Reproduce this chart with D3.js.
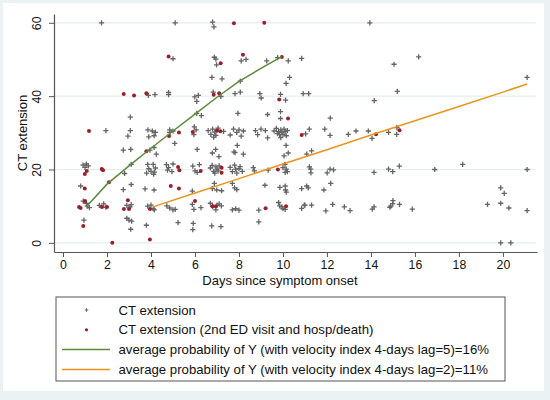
<!DOCTYPE html>
<html><head><meta charset="utf-8">
<script src="https://cdn.jsdelivr.net/npm/d3@7"></script>
<style>html,body{margin:0;padding:0;background:#eaf2f3;}svg{display:block;font-family:"Liberation Sans",Arial,sans-serif;}</style>
</head><body><svg id="c" width="550" height="400"></svg>
<script>
// ---- data ----
const xTicks = [0,2,4,6,8,10,12,14,16,18,20];
const yTicks = [0,20,40,60];
const xTitle = "Days since symptom onset";
const yTitle = "CT extension";
const legendLabels = [
  "CT extension",
  "CT extension (2nd ED visit and hosp/death)",
  "average probability of Y (with velocity index 4-days lag=5)=16%",
  "average probability of Y (with velocity index 4-days lag=2)=11%"
];
const ctPoints = [
 [1.75,60],[5.1,60],[6.8,60.2],[6.86,58.9],[13.95,60],
 [5.0,50.2],[6.88,50.6],[6.95,50.1],[6.98,48.5],[8.1,49.6],[8.32,50],[9.26,49.6],[9.76,50.5],[10.24,49.6],[10.85,50.3],[15.05,48.7],[16.17,50.7],
 [6.77,45.1],[7.23,44.7],[8.06,44.1],[10.3,45.1],[10.14,43.5],[21.1,45.1],
 [3.88,40.2],[4.18,40.4],[4.8,41],[4.8,40.4],[5.99,39.8],[6.15,40.2],[6.08,38.6],[6.83,41.1],[7.18,39.9],[7.82,40.7],[8.06,41.1],[8.95,40.7],[9.01,39.5],[9.89,40.5],[10.12,38.9],[10.92,40.7],[11.17,40.7],[14.15,38.8],[15.2,41.3],
 [3.06,34.3],[6.08,35.3],[6.29,34.7],[7.95,35.3],[9.3,35.0],[9.89,35.8],[9.89,33.9],[12.15,34],
 [1.95,30.6],[3.06,30.6],[2.95,29.1],[3.86,30.8],[3.9,28.9],[4.14,29.2],[4.2,30.1],[4.06,30.5],[4.85,30.8],[4.85,30.1],[5.0,30.5],[5.97,31.6],[5.95,29.5],[6.05,30.8],[6.6,30.6],[6.72,29.6],[6.8,31.0],[6.9,30.2],[6.95,29.3],[7.05,31.3],[6.85,28.8],[7.3,30.4],[7.6,29.4],[7.75,31],[7.9,30.1],[8.0,30.8],[8.1,29.1],[8.2,30.5],[8.75,30.6],[8.85,29.5],[9.0,31],[9.2,30.6],[9.3,28.6],[9.6,30.5],[9.7,31.2],[9.75,29.8],[9.8,30.3],[9.85,29.5],[9.9,30.8],[9.95,30.1],[10.0,29.6],[10.05,31.0],[10.1,30.3],[10.15,29.2],[9.9,28.7],[10.2,30.6],[11.03,29.7],[11.2,31],[11.9,31],[12.14,29.3],[12.97,29.6],[13.32,30.5],[13.88,30.5],[14.05,28.5],[14.8,30.1],[15.18,31.4],[15.17,29.6],
 [2.74,25.3],[3.08,25.5],[3.95,25.3],[4.14,26],[4.24,24.2],[5.08,27.1],[6.1,25.5],[6.79,24.5],[6.94,25.5],[7.09,23.5],[7.77,24.8],[7.92,26.6],[7.82,24.6],[8.2,24.2],[10.14,26.6],[10.24,24.5],[10.05,23.7],[11.08,24.2],[11.3,25.1],
 [0.91,21.2],[1.06,21.5],[1.15,21],[1.0,20.6],[2.8,18.9],[3.1,21.4],[3.85,21.4],[4.1,21.4],[3.9,20.2],[4.0,19.5],[4.15,19.3],[3.8,19.0],[4.2,20.4],[4.12,18.7],[4.7,21.3],[4.8,20.5],[4.75,19.8],[4.95,19.4],[5.0,21.5],[5.9,20.9],[6.0,19.6],[6.1,19.2],[6.2,21.3],[6.7,20.4],[6.78,21.1],[6.85,19.5],[6.9,19.0],[6.95,20.7],[7.0,20.1],[7.05,19.6],[7.1,21.0],[7.6,20.6],[7.7,19.4],[7.8,21.2],[7.9,19.0],[8.0,20.2],[8.05,20.8],[8.15,19.5],[7.85,20.1],[8.65,20.5],[8.7,19.6],[9.33,19.8],[10.0,20.5],[10.1,19.2],[10.15,20.1],[10.2,19.4],[10.09,21.4],[11.2,20.7],[11.26,20.1],[11.27,19.1],[12.01,19.1],[12.14,20.1],[12.3,19.9],[14.14,19.2],[14.8,20.1],[14.99,19.4],[15.29,20.9],[16.9,20],[18.17,21.4],[21.1,20],
 [0.8,15.5],[2.74,14.5],[3.1,15.9],[3.73,14.7],[4.14,14.4],[5.88,14.1],[6.88,16.2],[6.79,14.8],[6.99,14.4],[7.21,14.2],[7.7,16.2],[7.8,15],[7.9,14.5],[9.18,15.7],[9.86,15.1],[10.1,15.5],[10.12,14.4],[10.15,13.8],[10.85,14.8],[11.08,15.5],[11.15,15],[11.86,14.4],[12.17,16.2],[19.9,15],[20.06,13.5],
 [0.92,11.4],[1.06,10.8],[1.1,10.0],[1.2,9.6],[1.65,10.2],[1.85,10.6],[1.95,9.7],[2.9,10.2],[3.05,9.8],[3.1,10.4],[3.85,10.0],[4.0,10.3],[4.1,9.3],[4.15,9.0],[4.72,10.1],[4.85,9.5],[5.0,9.0],[5.1,9.1],[5.88,10.5],[5.95,9.1],[6.27,9.6],[6.7,10.8],[6.8,9.9],[7.0,10.3],[7.1,10.6],[6.95,9.0],[7.2,10.1],[7.7,9.0],[7.85,9.3],[8.0,8.9],[8.9,8.9],[9.8,11.0],[9.85,10.1],[10.0,9.3],[9.95,9.8],[10.1,9.1],[10.85,9.4],[10.97,10.3],[11.0,10.3],[11.3,10.3],[11.95,8.7],[12.26,10.5],[12.79,9.8],[13.05,8.8],[14.06,9.2],[14.14,9.8],[14.86,9.7],[14.9,10],[14.99,10.7],[15.0,11.5],[15.3,10.5],[15.88,9.2],[19.3,10.5],[19.9,10.8],[20.27,9.5],[21.1,8.8],
 [0.95,6.2],[2.9,6.7],[3.0,6.2],[3.12,5.9],[3.08,3.7],[3.79,4.8],[5.23,5.5],[5.92,5.3],[5.9,3.6],[6.76,4.6],[7.18,4.4],[8.9,5.7],
 [19.9,0],[20.36,0]
];
const ctRedPoints = [
 [4.8,50.8],[7.17,49],[8.18,51.3],[9.95,50.7],[7.77,59.9],[9.15,60],[2.76,40.6],[3.23,40.2],[3.79,40.8],[6.85,40.4],[7.1,40.8],[9.83,39.1],[10.23,33.9],
 [1.18,30.5],[5.27,30.1],[5.9,30.2],[7.0,30.6],[7.15,30.4],[10.85,29.4],[14.23,29.6],[15.3,30.7],[4.82,29.1],[3.79,25],
 [1.08,19.6],[0.99,18.8],[1.76,20.1],[1.82,19.8],[5.23,20.7],[5.29,19.8],[6.26,19.6],[7.21,20.5],[7.21,19.1],[9.77,20],
 [0.99,14.8],[2.09,16.5],[4.9,15.5],[5.27,14.8],
 [0.73,9.8],[0.8,9.5],[1.0,11.4],[1.77,9.8],[2.0,9.8],[2.95,11.6],[2.77,9.2],[3.0,9.2],[3.95,9.2],[6.0,11.4],[6.8,10],[6.95,9.9],[9.21,9.4],[10.14,10],
 [0.92,4.6],[2.24,0],[3.95,0.9]
];
const greenLine = [[1.05,9.8],[2,16.0],[3,21.0],[4,25.8],[5,30.5],[6,35.1],[7,39.7],[8,44.0],[9,47.6],[9.94,50.8]];
const orangeLine = [[4.09,9.8],[6,13.6],[8,17.5],[10,21.5],[12,25.4],[14,29.4],[16,33.3],[18,37.2],[20,41.1],[21.1,43.3]];

// ---- styles ----
const C = {gray:"#646464", red:"#9a1f2b", green:"#5b8a3a", orange:"#e8951b", grid:"#e3eded", axis:"#555"};

const svg = d3.select("#c");
svg.append("rect").attr("x",3).attr("y",3).attr("width",541).attr("height",388).attr("fill","#fff");

const x = d3.scaleLinear().domain([-0.41,21.55]).range([54,537]);
const y = d3.scaleLinear().domain([-2.5,62.4]).range([252,14]);

// gridlines
svg.append("g").selectAll("line").data(yTicks).join("line")
  .attr("x1",54).attr("x2",536).attr("y1",d=>y(d)).attr("y2",d=>y(d))
  .attr("stroke",C.grid).attr("stroke-width",1.2);

// axes
const xa = svg.append("g").attr("transform","translate(0,252)")
  .call(d3.axisBottom(x).tickValues(xTicks).tickSize(5).tickPadding(3).tickSizeOuter(0));
const ya = svg.append("g").attr("transform","translate(54,0)")
  .call(d3.axisLeft(y).tickValues(yTicks).tickSize(5).tickPadding(3).tickSizeOuter(0));
[xa,ya].forEach(a=>{
  a.select(".domain").attr("stroke",C.axis).attr("stroke-width",1.2);
  a.selectAll(".tick line").attr("stroke",C.axis);
  a.selectAll(".tick text").attr("fill","#111").style("font-size","12.3px").style("font-family","Liberation Sans, Arial, sans-serif");
});
ya.selectAll(".tick text").attr("text-anchor","middle").attr("x",0).attr("y",0).attr("dy","0")
  .attr("transform","translate(-13,0) rotate(-90)");

// titles
svg.append("text").attr("x",280).attr("y",285).attr("text-anchor","middle")
  .style("font-size","13px").attr("fill","#111").text(xTitle);
svg.append("text").attr("transform","translate(27,133) rotate(-90)").attr("text-anchor","middle")
  .style("font-size","13px").attr("fill","#111").text(yTitle);

// points
const plus = r => `M${-r},0H${r}M0,${-r}V${r}`;
svg.append("g").selectAll("path").data(ctPoints).join("path")
  .attr("transform",d=>`translate(${x(d[0])},${y(d[1])})`).attr("d",plus(2.6))
  .attr("stroke",C.gray).attr("stroke-width",1.3).attr("fill","none");
svg.append("g").selectAll("circle").data(ctRedPoints).join("circle")
  .attr("cx",d=>x(d[0])).attr("cy",d=>y(d[1])).attr("r",2.0).attr("fill",C.red);

const line = d3.line().x(d=>x(d[0])).y(d=>y(d[1]));
svg.append("path").datum(greenLine).attr("d",line).attr("fill","none").attr("stroke",C.green).attr("stroke-width",1.5);
svg.append("path").datum(orangeLine).attr("d",line).attr("fill","none").attr("stroke",C.orange).attr("stroke-width",1.5);

// legend
const lg = svg.append("g");
lg.append("rect").attr("x",56).attr("y",297).attr("width",449).attr("height",84).attr("fill","#fff").attr("stroke","#555").attr("stroke-width",1);
const ly = i => 310 + i*19.8;
lg.append("path").attr("transform",`translate(86.5,${ly(0)})`).attr("d",plus(1.8)).attr("stroke",C.gray).attr("stroke-width",1);
lg.append("circle").attr("cx",86.5).attr("cy",ly(1)).attr("r",1.6).attr("fill",C.red);
lg.append("line").attr("x1",62).attr("x2",110).attr("y1",ly(2)).attr("y2",ly(2)).attr("stroke",C.green).attr("stroke-width",1.5);
lg.append("line").attr("x1",62).attr("x2",110).attr("y1",ly(3)).attr("y2",ly(3)).attr("stroke",C.orange).attr("stroke-width",1.5);
lg.selectAll("text").data(legendLabels).join("text")
  .attr("x",118.5).attr("y",(d,i)=>ly(i)+4.6).style("font-size","13.2px").attr("fill","#111").text(d=>d);
</script></body></html>
